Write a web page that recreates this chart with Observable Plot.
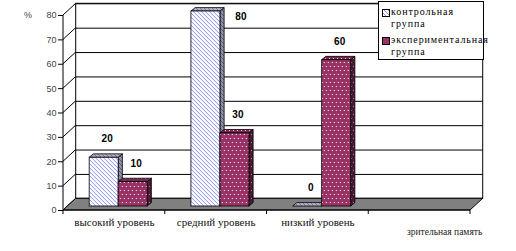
<!DOCTYPE html>
<html><head><meta charset="utf-8">
<script src="https://cdn.jsdelivr.net/npm/d3@7"></script>
<script src="https://cdn.jsdelivr.net/npm/@observablehq/plot@0.6"></script>
<style>
body{margin:0;background:#fff;}
#wrap{position:relative;width:516px;height:251px;overflow:hidden;background:#fff;}
#wrap svg{position:absolute;left:0;top:0;}
.pct{position:absolute;left:24px;top:10px;font-family:"Liberation Sans",Arial,sans-serif;font-size:9px;color:#444;}
.legend{position:absolute;left:378px;top:1px;width:106px;height:59px;border:1px solid #000;background:#fff;box-sizing:border-box;
  font-family:"Liberation Serif","DejaVu Serif",serif;font-size:10px;letter-spacing:0.9px;color:#000;}
.legend .item{position:absolute;left:3px;}
.legend .sw{position:absolute;left:0;width:6px;height:6px;border:1px solid #000;}
.legend .tx{position:absolute;left:9px;line-height:12px;white-space:nowrap;}
</style></head><body><div id="wrap"></div>
<script>
// ---- data ----
const categories = ["высокий уровень", "средний уровень", "низкий уровень", "зрительная память"];
const groups = ["контрольная группа", "экспериментальная группа"];
const control = [20, 80, 0, null];
const experimental = [10, 30, 60, null];
const yTicks = [0, 10, 20, 30, 40, 50, 60, 70, 80];
const yLabel = "%";
const legendLines = [["контрольная", "группа"], ["экспериментальная", "группа"]];

// ---- layout / style ----
const W = 516, H = 251, mL = 63, mR = 46, mT = 15, mB = 41;
const DEPTH = {x: 12.7, y: -11.7};
const BAR_W = 29, BAR_OFF = {x: 4.3, y: -4}, BAR_D = {x: 4.2, y: -3.4};
const SERIF = "'Liberation Serif', 'DejaVu Serif', serif";
const SANS = "'Liberation Sans', Arial, sans-serif";
const fills = [
  {front: "url(#hatch)", side: "url(#hatchSide)", top: "url(#hatchTop)"},
  {front: "url(#dots)", side: "url(#dotsSide)", top: "url(#dotsTop)"}
];

const rows = [];
categories.forEach((c, i) => {
  if (control[i] != null) rows.push({cat: c, group: groups[0], gi: 0, value: control[i]});
  if (experimental[i] != null) rows.push({cat: c, group: groups[1], gi: 1, value: experimental[i]});
});
const yMax = d3.max(yTicks);
const bwPx = (W - mL - mR) / categories.length;
const groupDx = gi => (gi === 0 ? -BAR_W / 2 : BAR_W / 2);

function defs() {
  const g = d3.create("svg:g");
  const d = g.append("defs");
  function hatch(id, bg, fg) {
    const p = d.append("pattern").attr("id", id).attr("patternUnits", "userSpaceOnUse").attr("width", 4).attr("height", 4);
    p.append("rect").attr("width", 4).attr("height", 4).attr("fill", bg);
    p.append("path").attr("d", "M0,0L4,4M-1,3L1,5M3,-1L5,1").attr("stroke", fg).attr("stroke-width", 1);
  }
  function dots(id, bg, fg) {
    const p = d.append("pattern").attr("id", id).attr("patternUnits", "userSpaceOnUse").attr("width", 8).attr("height", 8);
    p.append("rect").attr("width", 8).attr("height", 8).attr("fill", bg);
    [[1, 2], [5, 2], [3, 6], [7, 6]].forEach(([cx, cy]) => p.append("rect").attr("x", cx).attr("y", cy).attr("width", 1).attr("height", 1).attr("fill", fg));
  }
  hatch("hatch", "#ffffff", "#8c8cf0");
  hatch("hatchSide", "#9090a8", "#5a5a78");
  hatch("hatchTop", "#b4b4cc", "#7878a0");
  dots("dots", "#993366", "#ffffff");
  dots("dotsSide", "#4d1a33", "#b080a0");
  dots("dotsTop", "#7a2952", "#e0c0d0");
  return g.node();
}

function box(index, {x, y}) {
  const x0 = x(categories[0]);
  const bw = x(categories[1]) - x0;
  const x1 = x0 + bw * categories.length;
  const y0 = y(0), yT = y(yMax);
  const g = d3.create("svg:g");
  g.append("rect").attr("x", x0 + DEPTH.x).attr("y", yT + DEPTH.y).attr("width", x1 - x0).attr("height", y0 - yT)
    .attr("fill", "#fff").attr("stroke", "#000").attr("stroke-width", 1);
  return g.node();
}

function wallAndFloor(index, {x, y}) {
  const x0 = x(categories[0]);
  const bw = x(categories[1]) - x0;
  const x1 = x0 + bw * categories.length;
  const y0 = y(0), yT = y(yMax);
  const g = d3.create("svg:g");
  yTicks.forEach(v => {
    g.append("line").attr("x1", x0).attr("y1", y(v)).attr("x2", x0 + DEPTH.x).attr("y2", y(v) + DEPTH.y).attr("stroke", "#000");
  });
  g.append("path").attr("d", `M${x0},${y0}L${x1},${y0}L${x1 + DEPTH.x},${y0 + DEPTH.y}L${x0 + DEPTH.x},${y0 + DEPTH.y}Z`)
    .attr("fill", "#808080").attr("stroke", "#000").attr("stroke-width", 1);
  g.append("line").attr("x1", x0).attr("x2", x0).attr("y1", yT).attr("y2", y0).attr("stroke", "#000");
  g.append("line").attr("x1", x0).attr("x2", x1).attr("y1", y0).attr("y2", y0).attr("stroke", "#000");
  for (let i = 0; i <= categories.length; i++) {
    g.append("line").attr("x1", x0 + i * bw).attr("x2", x0 + i * bw).attr("y1", y0).attr("y2", y0 + 4).attr("stroke", "#000");
  }
  return g.node();
}

function faces(gi) {
  return (index, {x, y}) => {
    const bw = x(categories[1]) - x(categories[0]);
    const g = d3.create("svg:g");
    rows.filter(d => d.gi === gi).forEach(d => {
      const bx = x(d.cat) + bw / 2 + groupDx(gi) - BAR_W / 2 + BAR_OFF.x;
      const right = bx + BAR_W;
      const top = y(d.value) + BAR_OFF.y, bot = y(0) + BAR_OFF.y;
      g.append("path").attr("d", `M${right},${top}L${right + BAR_D.x},${top + BAR_D.y}L${right + BAR_D.x},${bot + BAR_D.y}L${right},${bot}Z`)
        .attr("fill", fills[gi].side).attr("stroke", "#000").attr("stroke-width", 0.8);
      g.append("path").attr("d", `M${bx},${top}L${bx + BAR_D.x},${top + BAR_D.y}L${right + BAR_D.x},${top + BAR_D.y}L${right},${top}Z`)
        .attr("fill", fills[gi].top).attr("stroke", "#000").attr("stroke-width", 0.8);
    });
    return g.node();
  };
}

function bars(gi) {
  return Plot.barY(rows.filter(d => d.gi === gi), {
    x: "cat", y: "value", fill: fills[gi].front, stroke: "#000", strokeWidth: 0.8,
    insetLeft: (bwPx - BAR_W) / 2, insetRight: (bwPx - BAR_W) / 2,
    dx: groupDx(gi) + BAR_OFF.x, dy: BAR_OFF.y
  });
}

const overflow = d => d.value > yMax - 10;
function labels(gi) {
  const base = {x: "cat", y: "value", text: d => String(d.value), fontSize: 10, fontWeight: "bold",
    fontFamily: SANS, fill: "#000", textAnchor: "middle", lineAnchor: "middle"};
  return [
    Plot.text(rows.filter(d => d.gi === gi && !overflow(d)), {...base, dx: groupDx(gi) + BAR_OFF.x + 3, dy: -22.5}),
    Plot.text(rows.filter(d => d.gi === gi && overflow(d)), {...base, dx: groupDx(gi) + BAR_OFF.x + BAR_W + 6, dy: 1})
  ];
}

const plot = Plot.plot({
  width: W, height: H,
  marginLeft: mL, marginRight: mR, marginTop: mT, marginBottom: mB,
  style: {background: "transparent", overflow: "visible"},
  x: {type: "band", domain: categories, padding: 0, round: false},
  y: {domain: [0, yMax], round: false},
  marks: [
    defs,
    box,
    Plot.ruleY(yTicks.filter(v => v > 0), {dx: DEPTH.x, dy: DEPTH.y, stroke: "#000", strokeWidth: 1}),
    wallAndFloor,
    faces(0), bars(0),
    faces(1), bars(1),
    ...labels(0), ...labels(1),
    Plot.axisY(yTicks, {tickSize: 5, tickPadding: 2, fontSize: 9, fontFamily: SANS, label: null, stroke: "#000", fill: "#444"}),
    Plot.axisX(categories.slice(0, 3), {tickSize: 0, tickPadding: 8, fontSize: 11, fontFamily: SERIF, label: null, fill: "#111"}),
    Plot.axisX(categories.slice(3), {tickSize: 0, tickPadding: 18, dx: 25, fontSize: 9.5, fontFamily: SERIF, label: null, fill: "#222"})
  ]
});

const wrap = document.getElementById("wrap");
wrap.appendChild(plot);

const pct = document.createElement("div");
pct.className = "pct"; pct.textContent = yLabel;
wrap.appendChild(pct);

const lg = document.createElement("div");
lg.className = "legend";
legendLines.forEach((lines, gi) => {
  const it = document.createElement("div");
  it.className = "item";
  it.style.top = (gi === 0 ? 4 : 32) + "px";
  const sw = document.createElement("div");
  sw.className = "sw";
  sw.style.top = "3px";
  sw.style.background = gi === 0 ? "repeating-linear-gradient(45deg,#fff 0 1.5px,#8c8cf0 1.5px 2.8px)" : "#993366";
  it.appendChild(sw);
  const tx = document.createElement("div");
  tx.className = "tx";
  tx.innerHTML = lines.join("<br>");
  it.appendChild(tx);
  lg.appendChild(it);
});
wrap.appendChild(lg);
</script>
</body></html>
